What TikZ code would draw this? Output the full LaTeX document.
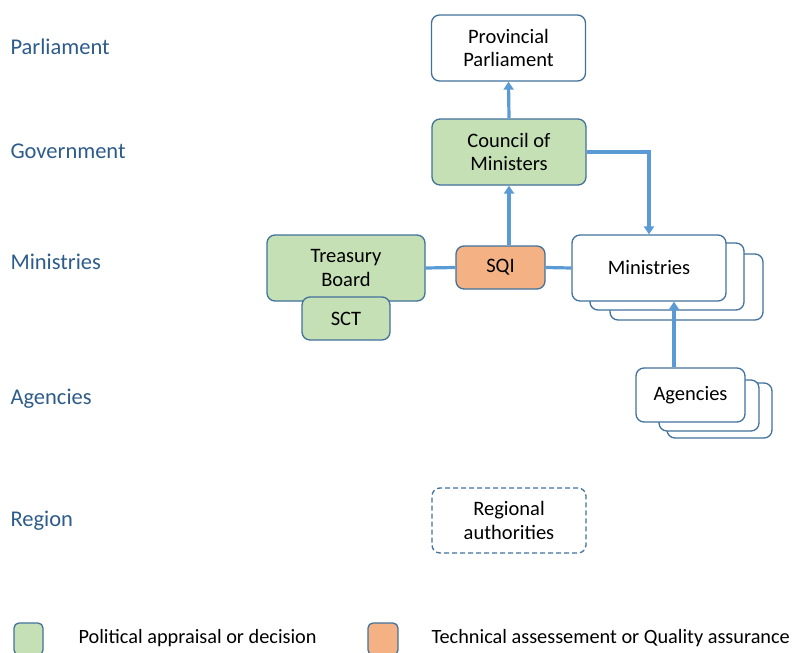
\documentclass[tikz,border=0pt]{standalone}
\usepackage{fontspec}
\setmainfont{Carlito}
\usepackage{tikz}
\usetikzlibrary{positioning,arrows.meta,calc}
\definecolor{green1}{HTML}{C5E0B4}
\definecolor{orange1}{HTML}{F4B183}
\definecolor{edge1}{HTML}{41719C}
\definecolor{link1}{HTML}{5B9BD5}
\definecolor{level1}{HTML}{2E5C8A}

\begin{document}
\begin{tikzpicture}[
    x=1pt, y=-1pt,
    box/.style={draw=edge1, line width=1.3pt, rounded corners=8pt,
                fill=white, align=center, inner sep=0pt,
                font=\fontsize{20.5}{23.5}\selectfont},
    polbox/.style={box, fill=green1},
    techbox/.style={box, fill=orange1},
    level/.style={anchor=west, text=level1,
                  font=\fontsize{22.5}{26}\selectfont},
    legtext/.style={anchor=west, font=\fontsize{20.3}{24}\selectfont},
    conn/.style={draw=link1, line width=3.2pt},
    tip/.style={-{Triangle[length=8pt,width=10pt]}},
]
\useasboundingbox (0,0) rectangle (793,653);

% level labels
\node[level] (lparl) at (7,47) {Parliament};
\node[level] (lgov)  at (7,151) {Government};
\node[level] (lmin)  at (7,262) {Ministries};
\node[level] (lag)   at (7,399) {Agencies};
\node[level] (lreg)  at (7,521) {Region};

% boxes
\node[box, minimum width=154pt, minimum height=66pt]
    (prov) at (508.5,48) {Provincial\\Parliament};
\node[polbox, minimum width=154pt, minimum height=66pt]
    (council) at (509,152) {Council of\\Ministers};
\node[polbox, minimum width=158pt, minimum height=66pt]
    (treasury) at (346,268) {Treasury\\Board};
\node[polbox, minimum width=88pt, minimum height=43pt]
    (sct) at (346,318.5) {SCT};
\node[techbox, minimum width=89pt, minimum height=43pt]
    (sqi) at (500.5,267.5) {SQI};

% stacked ministries
\node[box, minimum width=153pt, minimum height=66pt] (min3) at (686.5,287) {};
\node[box, minimum width=154pt, minimum height=67pt] (min2) at (667,276.5) {};
\node[box, minimum width=154pt, minimum height=66pt]
    (min) at (649,268) {Ministries};

% stacked agencies
\node[box, minimum width=105pt, minimum height=55pt] (ag3) at (719.5,410.5) {};
\node[box, minimum width=100pt, minimum height=51pt] (ag2) at (709,405.5) {};
\node[box, minimum width=109pt, minimum height=54pt]
    (ag) at (690.5,395) {Agencies};

\node[box, dash pattern=on 5pt off 3pt, minimum width=154pt, minimum height=65pt]
    (reg) at (509,520.5) {Regional\\authorities};

% connectors
\draw[conn, tip] (council.north) -- (prov.south);
\draw[conn, tip] (council.south |- sqi.north) -- (council.south);
\draw[conn, tip] (council.east) -| (min.north);
\draw[conn] (treasury.east) -- (sqi.west);
\draw[conn] (sqi.east) -- (min.west);
\coordinate (agtop) at ([xshift=-16.5pt]ag.north);
\draw[conn, tip] (agtop) -- (agtop |- min.south);

% legend
\node[polbox, rounded corners=5pt, minimum width=29pt, minimum height=32pt]
    (legpol) at (28.5,639) {};
\node[legtext] (legpoltext) at (75,638) {Political appraisal or decision};
\node[techbox, rounded corners=5pt, minimum width=30pt, minimum height=32pt]
    (legtech) at (383,639) {};
\node[legtext] (legtechtext) at (428,638) {Technical assessement or Quality assurance};
\end{tikzpicture}
\end{document}
